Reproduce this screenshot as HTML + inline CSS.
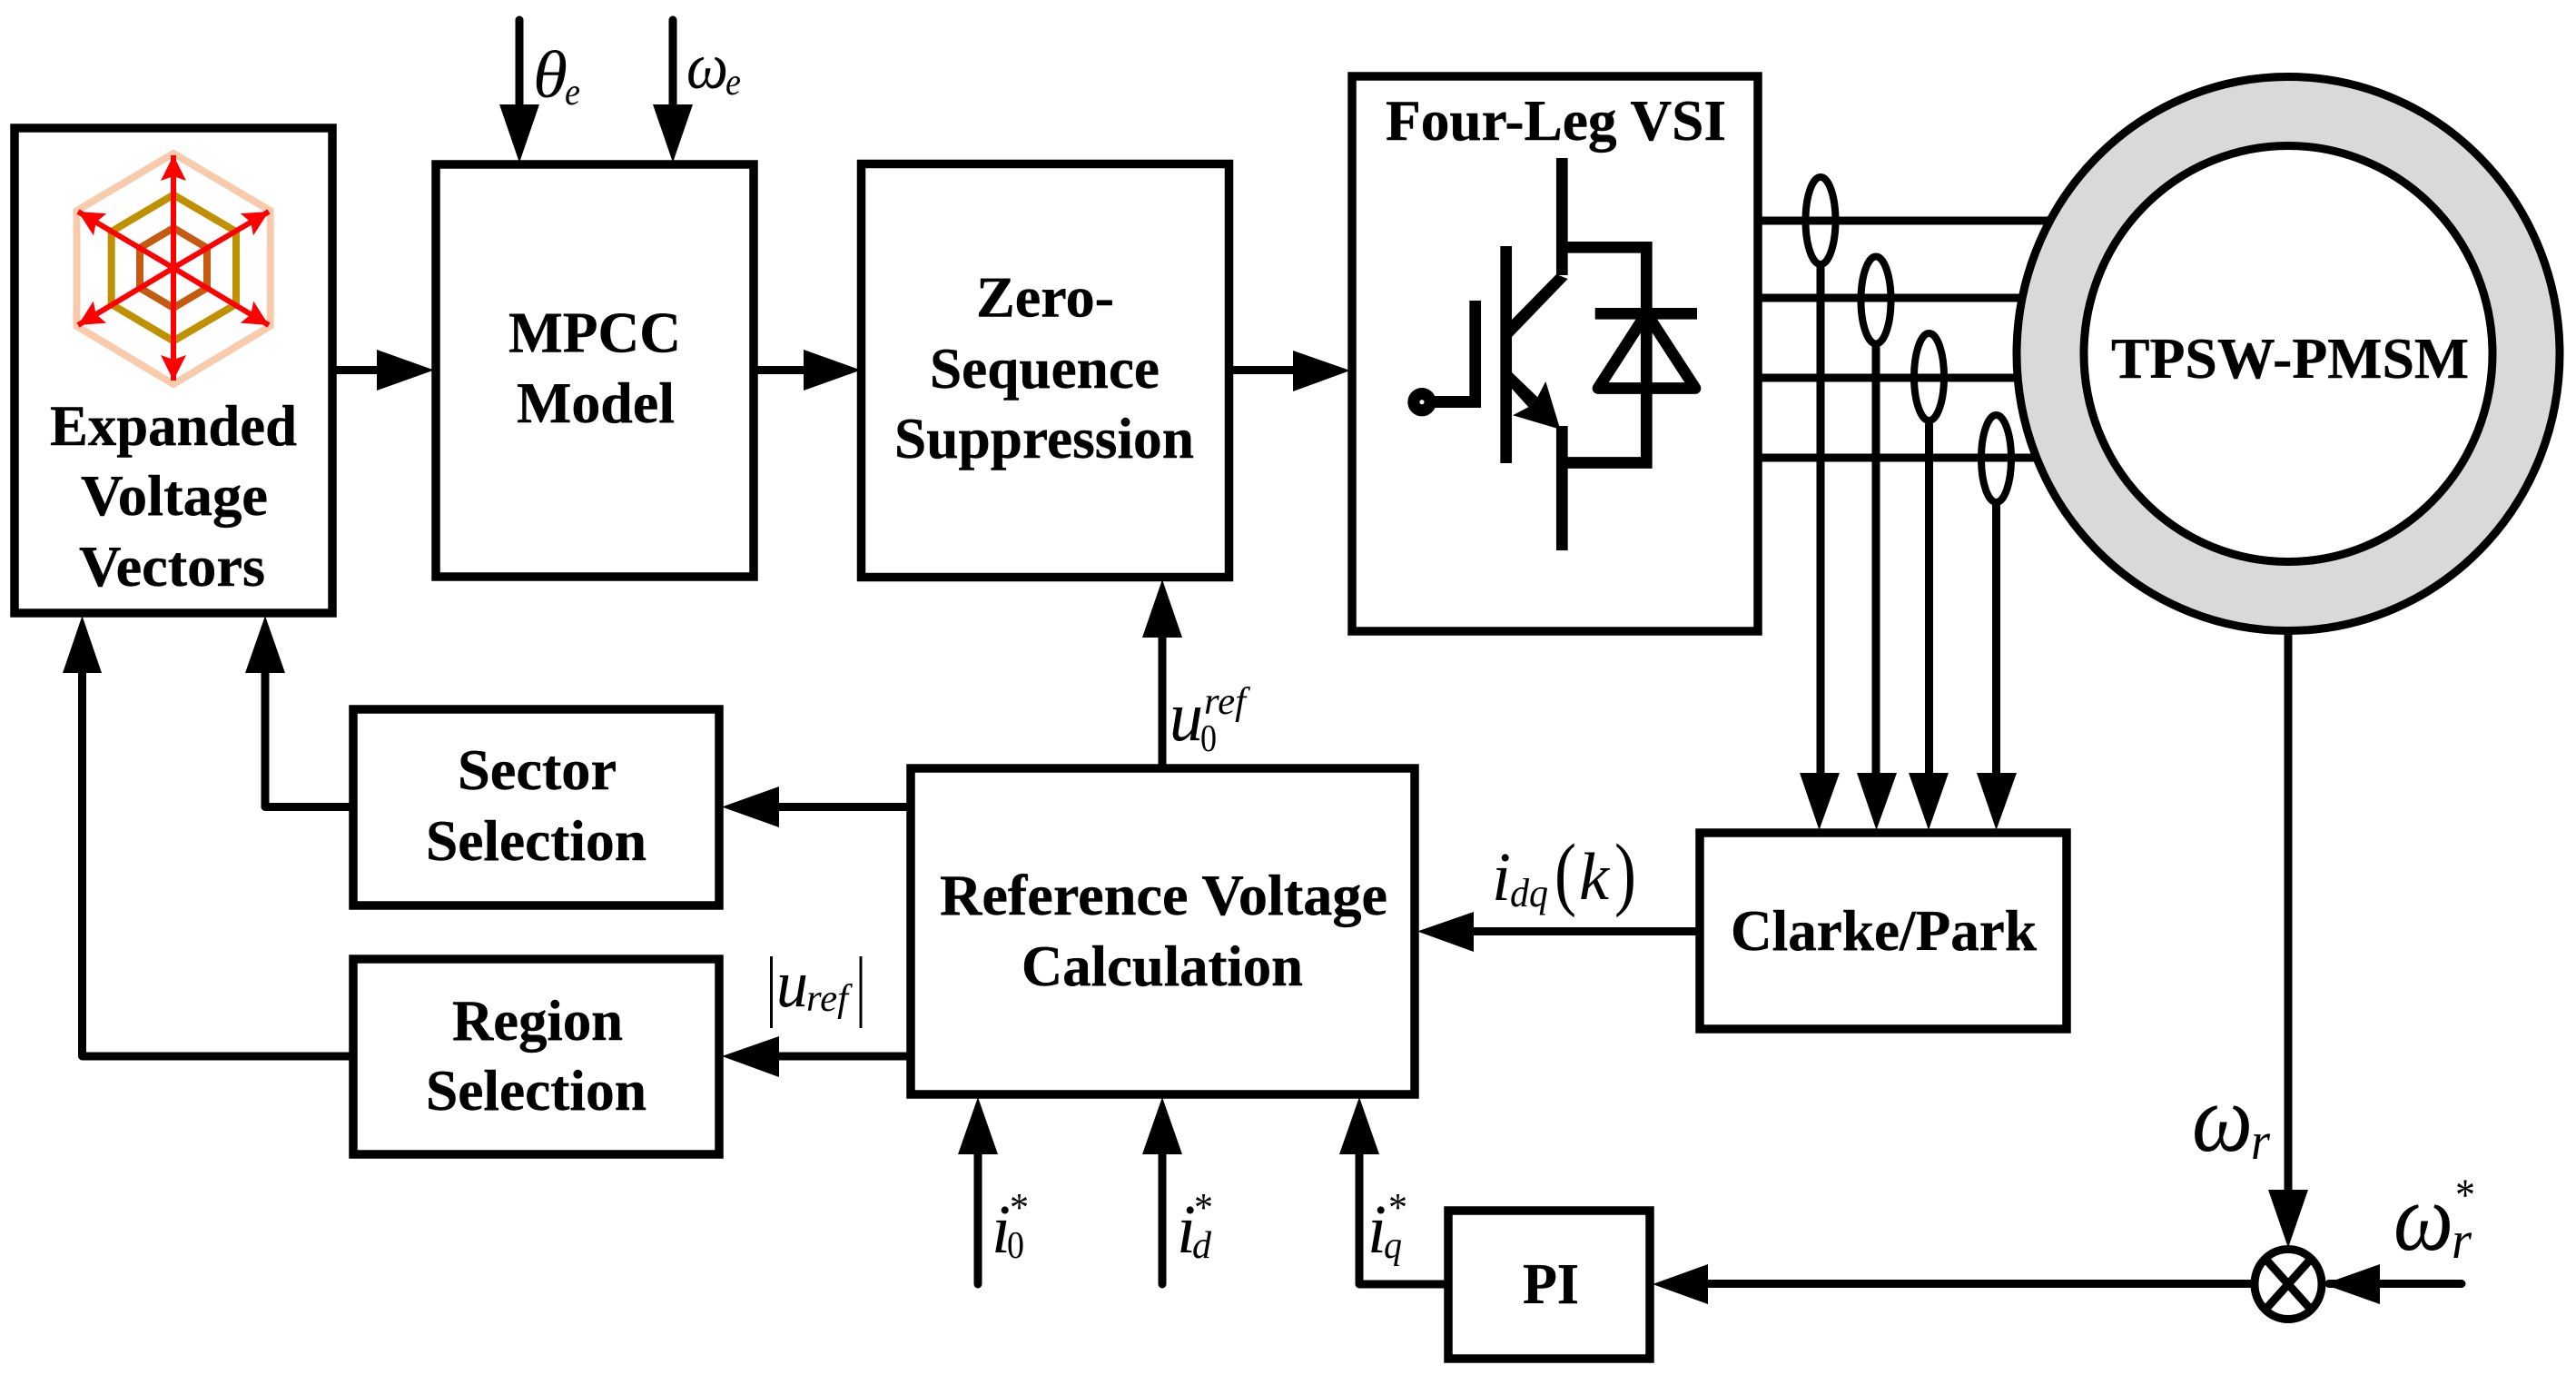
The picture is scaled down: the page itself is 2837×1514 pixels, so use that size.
<!DOCTYPE html>
<html><head><meta charset="utf-8"><style>
html,body{margin:0;padding:0;background:#fff}
svg{display:block}
.b{font-family:"Liberation Serif",serif;font-weight:bold;font-size:64px;fill:#000;stroke:#000;stroke-width:0.4}
.i{font-family:"Liberation Serif",serif;font-style:italic;fill:#000}
.r{font-family:"Liberation Serif",serif;fill:#000}
.box{fill:#fff;stroke:#000;stroke-width:9.5}
.l{fill:none;stroke:#000;stroke-width:9;stroke-linecap:round;stroke-linejoin:round}
.t{fill:none;stroke:#000;stroke-width:12.7}
</style></head><body>
<svg width="2837" height="1514" viewBox="0 0 2837 1514" xmlns="http://www.w3.org/2000/svg">
<defs>
<marker id="rh" markerUnits="userSpaceOnUse" markerWidth="30" markerHeight="30" viewBox="0 -15 30 30" refX="28" refY="0" orient="auto">
<path d="M0,-14 L28,0 L0,14 L5,0 Z" fill="#f00"/>
</marker>
</defs>
<rect width="2837" height="1514" fill="#fff"/>

<!-- Motor phase lines -->
<g class="l" style="stroke-linecap:butt">
<path d="M1936 243H2400M1936 328H2400M1936 416H2400M1936 504H2400"/>
</g>

<!-- Motor -->
<ellipse cx="2520" cy="389.5" rx="299" ry="305" fill="#d9d9d9" stroke="#000" stroke-width="9"/>
<ellipse cx="2520" cy="389.5" rx="225" ry="229" fill="#fff" stroke="#000" stroke-width="9"/>
<text class="b" x="2325" y="416" textLength="394" lengthAdjust="spacingAndGlyphs">TPSW-PMSM</text>

<!-- Boxes -->
<rect class="box" x="16" y="141" width="350" height="534"/>
<rect class="box" x="480" y="181" width="350" height="454"/>
<rect class="box" x="948.5" y="180.5" width="405" height="455"/>
<rect class="box" x="1489" y="84" width="447" height="611"/>
<rect class="box" x="389" y="781" width="403" height="216"/>
<rect class="box" x="389" y="1056" width="403" height="215"/>
<rect class="box" x="1003" y="846" width="555" height="359"/>
<rect class="box" x="1872" y="917" width="404" height="216"/>
<rect class="box" x="1595" y="1333" width="222" height="163"/>

<!-- Hexagons -->
<g fill="none" stroke-width="8" stroke-linejoin="miter">
<polygon stroke="#f8cbad" points="191,169 297.7,232 297.7,359 191,423 84.5,359 84.5,232"/>
<polygon stroke="#bf9000" points="191,214.5 260,255 260,335 191,375.5 122.7,335 122.7,255"/>
<polygon stroke="#c55a11" points="191,251 228,273 228,317 191,339 154,317 154,273"/>
</g>
<g stroke="#f00" stroke-width="6" fill="none">
<line x1="191" y1="295" x2="191" y2="171" marker-end="url(#rh)"/>
<line x1="191" y1="295" x2="191" y2="419" marker-end="url(#rh)"/>
<line x1="191" y1="295" x2="296" y2="233" marker-end="url(#rh)"/>
<line x1="191" y1="295" x2="86" y2="233" marker-end="url(#rh)"/>
<line x1="191" y1="295" x2="86" y2="358" marker-end="url(#rh)"/>
<line x1="191" y1="295" x2="296" y2="358" marker-end="url(#rh)"/>
</g>

<!-- Connectors -->
<g class="l">
<path d="M572 22V120M741 22V120"/>
<path d="M371 407.500H420M835 407.500H890M1358 407.500H1430"/>
<path d="M1280 841V695"/>
<path d="M998 888.500H850M998 1163H850"/>
<path d="M384 888.500H292V735M384 1163H90.500V735"/>
<path d="M1867 1025.500H1618"/>
<path d="M1077 1414V1265M1280 1414V1265M1590 1414H1497V1265"/>
<path d="M2520 699V1315"/>
<path d="M2479 1413.500H1875M2565 1413.500H2711"/>
<path d="M2005 295V856M2066 383V856M2124.500 468V856M2198.500 557V856"/>
</g>

<!-- Current sensors -->
<g fill="none" stroke="#000" stroke-width="8">
<ellipse cx="2005" cy="243" rx="16.500" ry="48"/>
<ellipse cx="2066" cy="330.500" rx="16.500" ry="48"/>
<ellipse cx="2124.500" cy="415" rx="16.500" ry="48"/>
<ellipse cx="2198.500" cy="505" rx="16.500" ry="48"/>
</g>

<!-- Arrowheads -->
<g fill="#000">
<polygon points="550,115 594,115 572,179"/>
<polygon points="719,115 763,115 741,179"/>
<polygon points="415,385 415,430 478,407.500"/>
<polygon points="885,385 885,430 948,407.500"/>
<polygon points="1424,386 1424,431 1487,408"/>
<polygon points="1258,702 1302,702 1280,638"/>
<polygon points="69,741 112,741 90.500,678"/>
<polygon points="270,741 314,741 292,678"/>
<polygon points="858,866 858,911 795,888.500"/>
<polygon points="858,1141 858,1186 795,1163"/>
<polygon points="1623,1004 1623,1048 1561,1025.500"/>
<polygon points="1055,1271 1099,1271 1077,1208"/>
<polygon points="1258,1271 1302,1271 1280,1208"/>
<polygon points="1475,1271 1519,1271 1497,1208"/>
<polygon points="1982,851 2026,851 2003.500,914"/>
<polygon points="2045,851 2089,851 2066.500,914"/>
<polygon points="2102,851 2146,851 2124,914"/>
<polygon points="2177,851 2221,851 2198.500,914"/>
<polygon points="2498,1310 2542,1310 2520,1374"/>
<polygon points="1881,1392 1881,1436 1820,1414"/>
<polygon points="2621,1392 2621,1436 2559,1414"/>
</g>

<!-- Summing junction -->
<ellipse cx="2520" cy="1414" rx="37" ry="38.500" fill="#fff" stroke="#000" stroke-width="9"/>
<path d="M2494 1385L2546 1443M2546 1385L2494 1443" stroke="#000" stroke-width="9" fill="none"/>

<!-- IGBT -->
<g class="t">
<path d="M1658.700 271V510"/>
<path d="M1624.700 331V449"/>
<path d="M1720.300 174V303"/>
<path d="M1720.300 469V606"/>
<path d="M1720.300 272.300H1813.300V509.500H1720.300"/>
<path d="M1756.700 345.300H1869"/>
<path d="M1813.300 345L1760 427.500H1867Z" stroke-linejoin="round"/>
</g>
<polygon points="1714,302 1726.700,307 1665,371 1665,352" fill="#000"/>
<polygon points="1665,410 1693.300,437.300 1683.300,448.300 1665,428" fill="#000"/>
<polygon points="1718.300,472.700 1702.300,420 1693.300,437.300 1683.300,448.300 1666,457.300" fill="#000"/>
<rect x="1570" y="436" width="61" height="13" fill="#000"/>
<circle cx="1566" cy="442.700" r="15.700" fill="#000"/>
<circle cx="1566" cy="442.700" r="2.500" fill="#fff"/>

<!-- Bold labels -->
<text class="b" x="55" y="490" textLength="272" lengthAdjust="spacingAndGlyphs">Expanded</text>
<text class="b" x="89" y="567" textLength="206" lengthAdjust="spacingAndGlyphs">Voltage</text>
<text class="b" x="87" y="645" textLength="205" lengthAdjust="spacingAndGlyphs">Vectors</text>
<text class="b" x="560" y="387.500" textLength="190" lengthAdjust="spacingAndGlyphs">MPCC</text>
<text class="b" x="569" y="465" textLength="174" lengthAdjust="spacingAndGlyphs">Model</text>
<text class="b" x="1075" y="348.500" textLength="152" lengthAdjust="spacingAndGlyphs">Zero-</text>
<text class="b" x="1024" y="427" textLength="253" lengthAdjust="spacingAndGlyphs">Sequence</text>
<text class="b" x="985" y="504" textLength="330" lengthAdjust="spacingAndGlyphs">Suppression</text>
<text class="b" x="1526" y="154" textLength="375" lengthAdjust="spacingAndGlyphs">Four-Leg VSI</text>
<text class="b" x="504" y="869" textLength="175" lengthAdjust="spacingAndGlyphs">Sector</text>
<text class="b" x="469" y="947" textLength="243" lengthAdjust="spacingAndGlyphs">Selection</text>
<text class="b" x="498" y="1145" textLength="188" lengthAdjust="spacingAndGlyphs">Region</text>
<text class="b" x="469" y="1222" textLength="243" lengthAdjust="spacingAndGlyphs">Selection</text>
<text class="b" x="1035" y="1007" textLength="493" lengthAdjust="spacingAndGlyphs">Reference Voltage</text>
<text class="b" x="1125" y="1085" textLength="310" lengthAdjust="spacingAndGlyphs">Calculation</text>
<text class="b" x="1906" y="1046" textLength="337" lengthAdjust="spacingAndGlyphs">Clarke/Park</text>
<text class="b" x="1677" y="1435" textLength="62" lengthAdjust="spacingAndGlyphs">PI</text>

<!-- Math labels -->
<text class="i" x="587" y="107" font-size="74" textLength="38" lengthAdjust="spacingAndGlyphs">θ</text>
<text class="i" x="622" y="115" font-size="42" textLength="17" lengthAdjust="spacingAndGlyphs">e</text>
<text class="i" x="756" y="97" font-size="72" textLength="46" lengthAdjust="spacingAndGlyphs">ω</text>
<text class="i" x="799" y="104" font-size="42" textLength="17" lengthAdjust="spacingAndGlyphs">e</text>

<text class="i" x="1288" y="815" font-size="78" textLength="37" lengthAdjust="spacingAndGlyphs">u</text>
<text class="i" x="1326" y="786" font-size="42" textLength="46" lengthAdjust="spacingAndGlyphs">ref</text>
<text class="r" x="1322" y="827" font-size="42" textLength="18" lengthAdjust="spacingAndGlyphs">0</text>

<rect x="848" y="1053" width="3" height="79"/>
<rect x="946.500" y="1053" width="3" height="79"/>
<text class="i" x="855" y="1108" font-size="74" textLength="35" lengthAdjust="spacingAndGlyphs">u</text>
<text class="i" x="888" y="1113" font-size="42" textLength="46" lengthAdjust="spacingAndGlyphs">ref</text>

<text class="i" x="1643" y="991" font-size="76" textLength="21" lengthAdjust="spacingAndGlyphs">i</text>
<text class="i" x="1663" y="998" font-size="44" textLength="42" lengthAdjust="spacingAndGlyphs">dq</text>
<text class="r" x="1712" y="991" font-size="90" textLength="24" lengthAdjust="spacingAndGlyphs">(</text>
<text class="i" x="1739" y="990" font-size="74" textLength="33" lengthAdjust="spacingAndGlyphs">k</text>
<text class="r" x="1778" y="991" font-size="90" textLength="24" lengthAdjust="spacingAndGlyphs">)</text>

<text class="i" x="1092" y="1379" font-size="76" textLength="21" lengthAdjust="spacingAndGlyphs">i</text>
<text class="r" x="1109" y="1385" font-size="42" textLength="19" lengthAdjust="spacingAndGlyphs">0</text>
<text class="r" x="1112" y="1344" font-size="44" textLength="21" lengthAdjust="spacingAndGlyphs">*</text>
<text class="i" x="1296" y="1379" font-size="76" textLength="21" lengthAdjust="spacingAndGlyphs">i</text>
<text class="i" x="1313" y="1385" font-size="42" textLength="21" lengthAdjust="spacingAndGlyphs">d</text>
<text class="r" x="1315" y="1344" font-size="44" textLength="21" lengthAdjust="spacingAndGlyphs">*</text>
<text class="i" x="1506" y="1379" font-size="76" textLength="21" lengthAdjust="spacingAndGlyphs">i</text>
<text class="i" x="1524" y="1385" font-size="42" textLength="20" lengthAdjust="spacingAndGlyphs">q</text>
<text class="r" x="1529" y="1344" font-size="44" textLength="21" lengthAdjust="spacingAndGlyphs">*</text>

<text class="i" x="2414" y="1267" font-size="106" textLength="67" lengthAdjust="spacingAndGlyphs">ω</text>
<text class="i" x="2479" y="1276" font-size="58" textLength="21" lengthAdjust="spacingAndGlyphs">r</text>
<text class="i" x="2636" y="1376" font-size="106" textLength="66" lengthAdjust="spacingAndGlyphs">ω</text>
<text class="i" x="2700" y="1385" font-size="58" textLength="22" lengthAdjust="spacingAndGlyphs">r</text>
<text class="r" x="2704" y="1332" font-size="50" textLength="22" lengthAdjust="spacingAndGlyphs">*</text>
</svg>
</body></html>
